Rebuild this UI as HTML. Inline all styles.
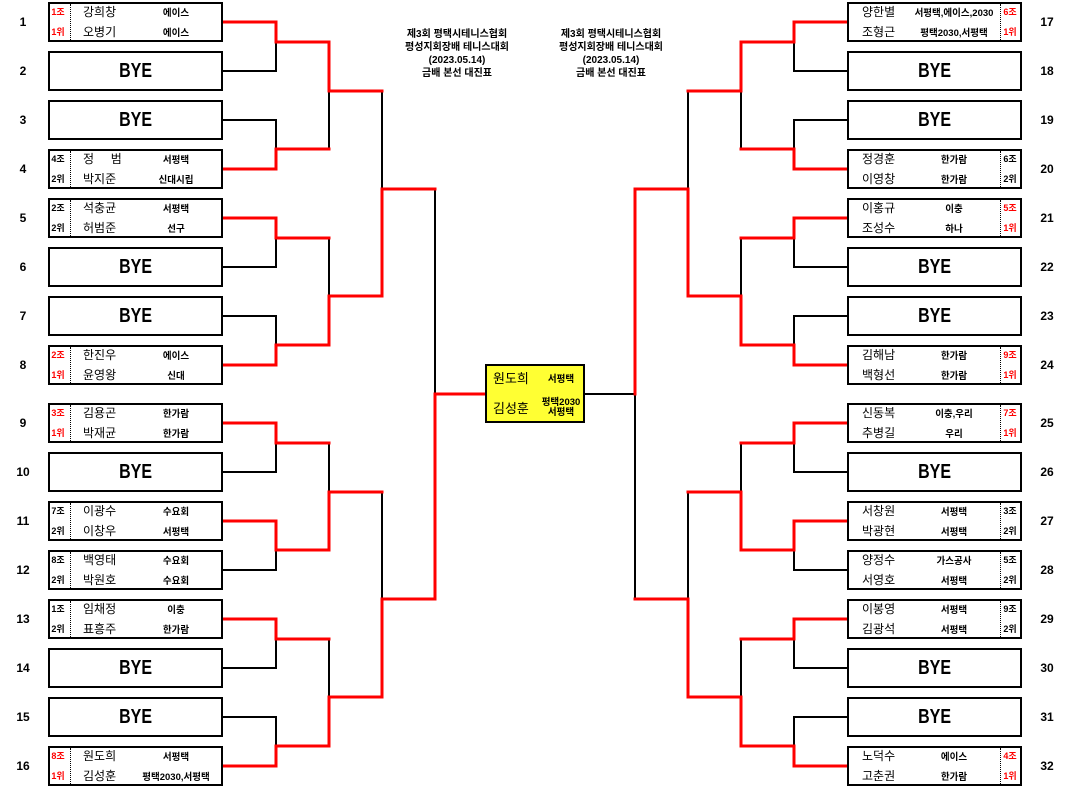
<!DOCTYPE html>
<html><head><meta charset="utf-8">
<style>
*{margin:0;padding:0}
html,body{width:1072px;height:788px;background:#fff;overflow:hidden}
body{position:relative;font-family:"Liberation Sans","Noto Sans CJK KR",sans-serif;color:#000}
.box{position:absolute;width:175px;height:40px;border:2px solid #000;box-sizing:border-box;background:#fff}
.L{left:48px}.R{left:847px}
.bye{text-align:center;line-height:36px;font-weight:bold;font-size:20px}
.bye span{display:inline-block;transform:scaleX(.8)}
.s{position:absolute;width:16px;text-align:center;font-size:9px;font-weight:bold;line-height:16px}
.r{color:#ff0000}
.n{position:absolute;font-size:12px;line-height:16px;white-space:nowrap}
.c{position:absolute;width:100px;text-align:center;font-size:9.5px;font-weight:bold;line-height:16px;white-space:nowrap;margin-top:1.5px}
.d{position:absolute;top:0;height:36px;border-left:1px dotted #000}
.L .s{left:0}.L .n{left:33px}.L .c{left:76px}.L .d{left:20px}
.R .s{left:153px}.R .n{left:13px}.R .c{left:55px}.R .d{left:151px}
.t1{top:0}.t2{top:20px}
.num{position:absolute;width:30px;text-align:center;font-size:12px;font-weight:bold;line-height:16px}
.nl{left:8px}.nr{left:1032px}
.title{position:absolute;top:28px;width:160px;text-align:center;font-size:10px;font-weight:bold;line-height:13px}
.final{position:absolute;left:485px;top:364px;width:100px;height:59px;border:2px solid #000;box-sizing:border-box;background:#ffff33}
.final .fn{position:absolute;left:6px;font-size:13px;line-height:16px}
.final .fc{position:absolute;left:48px;width:52px;text-align:center;font-size:9.5px;font-weight:bold;line-height:10px}
svg{position:absolute;left:0;top:0}
</style></head><body>

<svg width="1072" height="788" viewBox="0 0 1072 788">
<g fill="none" stroke="#000" stroke-width="2" stroke-linecap="square">
<path d="M223 71H276V42"/>
<path d="M223 120H276V149"/>
<path d="M276 238V267H223"/>
<path d="M223 316H276V345"/>
<path d="M329 91V149"/>
<path d="M329 238V296"/>
<path d="M382 91V189"/>
<path d="M276 443V472H223"/>
<path d="M276 550V570H223"/>
<path d="M329 443V492"/>
<path d="M276 639V668H223"/>
<path d="M223 717H276V746"/>
<path d="M329 639V697"/>
<path d="M382 492V599"/>
<path d="M435 189V394"/>
<path d="M847 71H794V42"/>
<path d="M847 120H794V149"/>
<path d="M794 238V267H847"/>
<path d="M847 316H794V345"/>
<path d="M741 91V149"/>
<path d="M741 238V296"/>
<path d="M688 91V189"/>
<path d="M794 443V472H847"/>
<path d="M794 550V570H847"/>
<path d="M741 443V492"/>
<path d="M794 639V668H847"/>
<path d="M847 717H794V746"/>
<path d="M741 639V697"/>
<path d="M688 492V599"/>
<path d="M635 394V599"/>
<path d="M585 394H635"/>
</g>
<g fill="none" stroke="#ff0000" stroke-width="3" stroke-linecap="square">
<path d="M223 22H276V42H329V91H382"/>
<path d="M223 169H276V149H329"/>
<path d="M223 218H276V238H329"/>
<path d="M223 365H276V345H329V296H382V189H435"/>
<path d="M223 423H276V443H329"/>
<path d="M223 521H276V550H329V492H382"/>
<path d="M223 619H276V639H329"/>
<path d="M223 766H276V746H329V697H382V599H435V394H485"/>
<path d="M847 22H794V42H741V91H688"/>
<path d="M847 169H794V149H741"/>
<path d="M847 218H794V238H741"/>
<path d="M847 365H794V345H741V296H688V189H635V394"/>
<path d="M847 423H794V443H741"/>
<path d="M847 521H794V550H741V492H688"/>
<path d="M847 619H794V639H741"/>
<path d="M847 766H794V746H741V697H688V599H635"/>
</g>
</svg>

<div class="title" style="left:377px">제3회 평택시테니스협회<br>평성지회장배 테니스대회<br>(2023.05.14)<br>금배 본선 대진표</div>
<div class="title" style="left:531px">제3회 평택시테니스협회<br>평성지회장배 테니스대회<br>(2023.05.14)<br>금배 본선 대진표</div>

<!-- left numbers -->
<div class="num nl" style="top:14px">1</div>
<div class="num nl" style="top:63px">2</div>
<div class="num nl" style="top:112px">3</div>
<div class="num nl" style="top:161px">4</div>
<div class="num nl" style="top:210px">5</div>
<div class="num nl" style="top:259px">6</div>
<div class="num nl" style="top:308px">7</div>
<div class="num nl" style="top:357px">8</div>
<div class="num nl" style="top:415px">9</div>
<div class="num nl" style="top:464px">10</div>
<div class="num nl" style="top:513px">11</div>
<div class="num nl" style="top:562px">12</div>
<div class="num nl" style="top:611px">13</div>
<div class="num nl" style="top:660px">14</div>
<div class="num nl" style="top:709px">15</div>
<div class="num nl" style="top:758px">16</div>
<!-- right numbers -->
<div class="num nr" style="top:14px">17</div>
<div class="num nr" style="top:63px">18</div>
<div class="num nr" style="top:112px">19</div>
<div class="num nr" style="top:161px">20</div>
<div class="num nr" style="top:210px">21</div>
<div class="num nr" style="top:259px">22</div>
<div class="num nr" style="top:308px">23</div>
<div class="num nr" style="top:357px">24</div>
<div class="num nr" style="top:415px">25</div>
<div class="num nr" style="top:464px">26</div>
<div class="num nr" style="top:513px">27</div>
<div class="num nr" style="top:562px">28</div>
<div class="num nr" style="top:611px">29</div>
<div class="num nr" style="top:660px">30</div>
<div class="num nr" style="top:709px">31</div>
<div class="num nr" style="top:758px">32</div>

<!-- left boxes -->
<div class="box L" style="top:2px"><span class="s t1 r">1조</span><span class="s t2 r">1위</span><span class="d"></span><span class="n t1">강희창</span><span class="n t2">오병기</span><span class="c t1">에이스</span><span class="c t2">에이스</span></div>
<div class="box L bye" style="top:51px"><span>BYE</span></div>
<div class="box L bye" style="top:100px"><span>BYE</span></div>
<div class="box L" style="top:149px"><span class="s t1">4조</span><span class="s t2">2위</span><span class="d"></span><span class="n t1">정&nbsp;&nbsp;&nbsp;&nbsp;&nbsp;범</span><span class="n t2">박지준</span><span class="c t1">서평택</span><span class="c t2">신대시립</span></div>
<div class="box L" style="top:198px"><span class="s t1">2조</span><span class="s t2">2위</span><span class="d"></span><span class="n t1">석충균</span><span class="n t2">허범준</span><span class="c t1">서평택</span><span class="c t2">선구</span></div>
<div class="box L bye" style="top:247px"><span>BYE</span></div>
<div class="box L bye" style="top:296px"><span>BYE</span></div>
<div class="box L" style="top:345px"><span class="s t1 r">2조</span><span class="s t2 r">1위</span><span class="d"></span><span class="n t1">한진우</span><span class="n t2">윤영왕</span><span class="c t1">에이스</span><span class="c t2">신대</span></div>
<div class="box L" style="top:403px"><span class="s t1 r">3조</span><span class="s t2 r">1위</span><span class="d"></span><span class="n t1">김용곤</span><span class="n t2">박재균</span><span class="c t1">한가람</span><span class="c t2">한가람</span></div>
<div class="box L bye" style="top:452px"><span>BYE</span></div>
<div class="box L" style="top:501px"><span class="s t1">7조</span><span class="s t2">2위</span><span class="d"></span><span class="n t1">이광수</span><span class="n t2">이창우</span><span class="c t1">수요회</span><span class="c t2">서평택</span></div>
<div class="box L" style="top:550px"><span class="s t1">8조</span><span class="s t2">2위</span><span class="d"></span><span class="n t1">백영태</span><span class="n t2">박원호</span><span class="c t1">수요회</span><span class="c t2">수요회</span></div>
<div class="box L" style="top:599px"><span class="s t1">1조</span><span class="s t2">2위</span><span class="d"></span><span class="n t1">임채정</span><span class="n t2">표흥주</span><span class="c t1">이충</span><span class="c t2">한가람</span></div>
<div class="box L bye" style="top:648px"><span>BYE</span></div>
<div class="box L bye" style="top:697px"><span>BYE</span></div>
<div class="box L" style="top:746px"><span class="s t1 r">8조</span><span class="s t2 r">1위</span><span class="d"></span><span class="n t1">원도희</span><span class="n t2">김성훈</span><span class="c t1">서평택</span><span class="c t2">평택2030,서평택</span></div>

<!-- right boxes -->
<div class="box R" style="top:2px"><span class="n t1">양한별</span><span class="n t2">조형근</span><span class="c t1">서평택,에이스,2030</span><span class="c t2">평택2030,서평택</span><span class="d"></span><span class="s t1 r">6조</span><span class="s t2 r">1위</span></div>
<div class="box R bye" style="top:51px"><span>BYE</span></div>
<div class="box R bye" style="top:100px"><span>BYE</span></div>
<div class="box R" style="top:149px"><span class="n t1">정경훈</span><span class="n t2">이영창</span><span class="c t1">한가람</span><span class="c t2">한가람</span><span class="d"></span><span class="s t1">6조</span><span class="s t2">2위</span></div>
<div class="box R" style="top:198px"><span class="n t1">이홍규</span><span class="n t2">조성수</span><span class="c t1">이충</span><span class="c t2">하나</span><span class="d"></span><span class="s t1 r">5조</span><span class="s t2 r">1위</span></div>
<div class="box R bye" style="top:247px"><span>BYE</span></div>
<div class="box R bye" style="top:296px"><span>BYE</span></div>
<div class="box R" style="top:345px"><span class="n t1">김해남</span><span class="n t2">백형선</span><span class="c t1">한가람</span><span class="c t2">한가람</span><span class="d"></span><span class="s t1 r">9조</span><span class="s t2 r">1위</span></div>
<div class="box R" style="top:403px"><span class="n t1">신동복</span><span class="n t2">추병길</span><span class="c t1">이충,우리</span><span class="c t2">우리</span><span class="d"></span><span class="s t1 r">7조</span><span class="s t2 r">1위</span></div>
<div class="box R bye" style="top:452px"><span>BYE</span></div>
<div class="box R" style="top:501px"><span class="n t1">서창원</span><span class="n t2">박광현</span><span class="c t1">서평택</span><span class="c t2">서평택</span><span class="d"></span><span class="s t1">3조</span><span class="s t2">2위</span></div>
<div class="box R" style="top:550px"><span class="n t1">양정수</span><span class="n t2">서영호</span><span class="c t1">가스공사</span><span class="c t2">서평택</span><span class="d"></span><span class="s t1">5조</span><span class="s t2">2위</span></div>
<div class="box R" style="top:599px"><span class="n t1">이봉영</span><span class="n t2">김광석</span><span class="c t1">서평택</span><span class="c t2">서평택</span><span class="d"></span><span class="s t1">9조</span><span class="s t2">2위</span></div>
<div class="box R bye" style="top:648px"><span>BYE</span></div>
<div class="box R bye" style="top:697px"><span>BYE</span></div>
<div class="box R" style="top:746px"><span class="n t1">노덕수</span><span class="n t2">고춘권</span><span class="c t1">에이스</span><span class="c t2">한가람</span><span class="d"></span><span class="s t1 r">4조</span><span class="s t2 r">1위</span></div>

<!-- final -->
<div class="final">
<span class="fn" style="top:5px">원도희</span>
<span class="fn" style="top:35px">김성훈</span>
<span class="fc" style="top:9px">서평택</span>
<span class="fc" style="top:32px">평택2030</span>
<span class="fc" style="top:42px">서평택</span>
</div>

</body></html>
